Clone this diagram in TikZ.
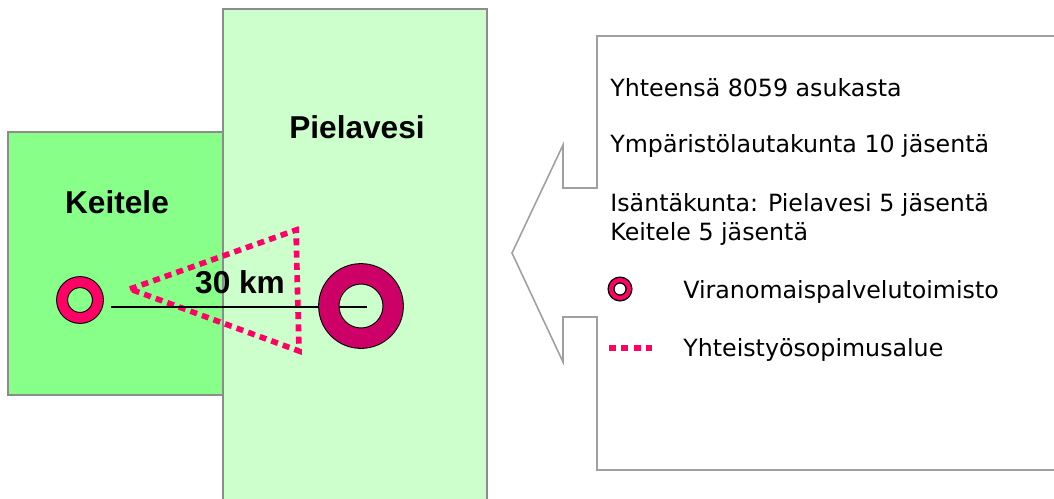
\documentclass[tikz,border=0pt]{standalone}
\usepackage{fontspec}
\setmainfont{Liberation Sans}
\newfontfamily\infofont{DejaVu Sans}
\usetikzlibrary{calc}

\definecolor{keitfill}{HTML}{88FF88}
\definecolor{pielfill}{HTML}{CCFFCC}
\definecolor{edgegray}{HTML}{8C8C8C}
\definecolor{calloutgray}{HTML}{A0A0A0}
\definecolor{zonepink}{HTML}{FF0066}
\definecolor{officedark}{HTML}{CC0066}

\begin{document}
\begin{tikzpicture}[x=0.02cm, y=-0.02cm,
  region/.style={draw=edgegray, line width=0.9pt},
  place/.style={font=\fontsize{18}{20}\selectfont\bfseries, inner sep=0pt},
  office/.style={circle, draw=black, line width=0.6pt, double=#1, inner sep=0pt},
  zone/.style={draw=zonepink, line width=3.2pt, dash pattern=on 4pt off 3pt},
  info/.style={anchor=west, inner sep=0pt, align=left, font=\infofont\fontsize{13.5}{16.5}\selectfont}]
\useasboundingbox (0,0) rectangle (1054,498);

% municipalities
\fill[pielfill] (223,9) rectangle (487,505);
\draw[region] (223,505) |- (487,9) -- (487,505);
\draw[region, fill=keitfill] (8,132) rectangle (223,395);
\node[place] (keitele) at (117,202) {Keitele};
\node[place] (pielavesi) at (357,127) {Pielavesi};

% cooperation area and distance
\coordinate (zoneL) at (130,289);
\coordinate (zoneT) at (296,230);
\coordinate (zoneB) at (299,351);
\draw[zone] (zoneL) -- (zoneT) -- (zoneB) -- cycle;
\coordinate (keitoffice) at (80,300);
\coordinate (pieloffice) at (361,306);
\coordinate (lineStart) at (111,307);
\draw[line width=0.7pt] (lineStart) -- ($(pieloffice)+(6,1)$);
\node[office=zonepink, double distance=5.6pt, minimum size=20.4pt] (keitring) at (keitoffice) {};
\node[office=officedark, double distance=11pt, minimum size=36.6pt] (pielring) at (pieloffice) {};
\node[place] (dist) at (240,282) {30 km};

% callout
\draw[calloutgray, line width=0.9pt] (597,36) -- (597,188) -- (563,188) -- (563,145)
  -- (512,253) -- (563,362) -- (563,317) -- (597,317) -- (597,470) -- (1060,470)
  -- (1060,36) -- cycle;
\node[info] (total) at (610,88) {Yhteensä 8059 asukasta};
\node[info] (board) at (610,146) {Ympäristölautakunta 10 jäsentä};
\node[info, anchor=north west] (host) at (610,193) {Isäntäkunta: Pielavesi 5 jäsentä\\Keitele 5 jäsentä};

% legend
\node[office=zonepink, line width=0.8pt, double distance=2.4pt, minimum size=10.2pt] (legring) at (620,289) {};
\node[info] (legoffice) at (683,292) {Viranomaispalvelutoimisto};
\coordinate (legzoneL) at (609,348);
\coordinate (legzoneR) at (652,348);
\draw[zone] (legzoneL) -- (legzoneR);
\node[info] (legzone) at (683,350) {Yhteistyösopimusalue};
\end{tikzpicture}
\end{document}
